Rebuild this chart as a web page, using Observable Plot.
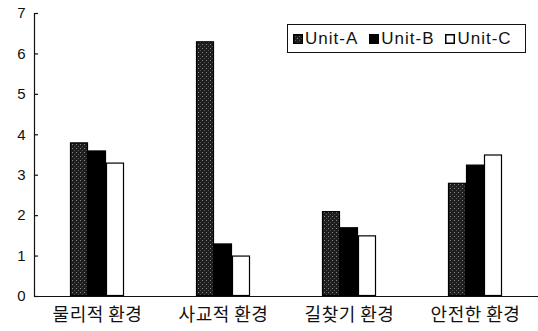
<!DOCTYPE html>
<html>
<head>
<meta charset="utf-8">
<script src="https://cdn.jsdelivr.net/npm/d3@7"></script>
<script src="https://cdn.jsdelivr.net/npm/@observablehq/plot@0.6"></script>
<style>
  html, body { margin: 0; padding: 0; background: #fff; }
  #wrap { position: relative; width: 538px; height: 331px; }
  #wrap svg { font-family: "Liberation Sans", Arial, sans-serif; }
  #wrap g[aria-label="fx-axis tick label"] text { letter-spacing: 0.5px; }
  #legend {
    position: absolute; left: 287px; top: 24px; width: 232px; height: 27px;
    border: 1px solid #111; box-sizing: content-box; white-space: nowrap; overflow: hidden;
    font-family: "Liberation Sans", Arial, sans-serif; font-size: 17px; letter-spacing: 1px;
    display: flex; align-items: center; padding-left: 5px; color: #111;
  }
  #legend .item { display: flex; align-items: center; margin-right: 11px; white-space: nowrap; flex: none; }
</style>
</head>
<body>
<div id="wrap"></div>
<script>
const categories = ["물리적 환경", "사교적 환경", "길찾기 환경", "안전한 환경"];
const units = ["Unit-A", "Unit-B", "Unit-C"];
const unitA = [3.8, 6.3, 2.1, 2.8];
const unitB = [3.6, 1.3, 1.7, 3.25];
const unitC = [3.3, 1.0, 1.5, 3.5];
const yTicks = [0, 1, 2, 3, 4, 5, 6, 7];

const seriesValues = [unitA, unitB, unitC];
const data = [];
categories.forEach((c, i) => units.forEach((u, j) => data.push({cat: c, unit: u, value: seriesValues[j][i]})));

const fills = {"Unit-A": "url(#stipple)", "Unit-B": "#000", "Unit-C": "#fff"};

const chart = Plot.plot({
  width: 538,
  height: 331,
  marginLeft: 34,
  marginRight: 0,
  marginTop: 13,
  marginBottom: 35,
  fx: {domain: categories, padding: 0, label: null},
  x: {domain: units, paddingInner: 0, paddingOuter: 2, axis: null},
  y: {domain: [0, 7], axis: null},
  marks: [
    Plot.axisY({ticks: yTicks, tickFormat: "d", tickSize: 0, tickPadding: 9, fontSize: 15, label: null, fill: "#111"}),
    Plot.axisY({ticks: yTicks, tickSize: 4, text: null, label: null, dx: 4, stroke: "#111", strokeWidth: 1.2}),
    Plot.axisFx({anchor: "bottom", tickSize: 0, tickPadding: 12, fontSize: 18, label: null,
      fontFamily: "'Noto Sans CJK KR', sans-serif", fill: "#111"}),
    Plot.barY(data, {fx: "cat", x: "unit", y: "value", fill: d => fills[d.unit], stroke: "#000", strokeWidth: 1.2, inset: 0.5}),
    Plot.ruleY([0], {stroke: "#111", strokeWidth: 1.2}),
    Plot.frame({anchor: "left", facetAnchor: "left", stroke: "#111", strokeWidth: 1.2})
  ]
});

// stipple pattern for Unit-A
const defs = d3.select(chart).insert("defs", ":first-child");
const pat = defs.append("pattern").attr("id", "stipple").attr("width", 4).attr("height", 4).attr("patternUnits", "userSpaceOnUse");
pat.append("rect").attr("width", 4).attr("height", 4).attr("fill", "#1e1e1e");
pat.append("rect").attr("x", 0).attr("y", 0).attr("width", 1).attr("height", 1).attr("fill", "#8a8a8a");
pat.append("rect").attr("x", 2).attr("y", 2).attr("width", 1).attr("height", 1).attr("fill", "#555");

const wrap = document.getElementById("wrap");
wrap.appendChild(chart);

const legend = document.createElement("div");
legend.id = "legend";
units.forEach(u => {
  const item = document.createElement("span");
  item.className = "item";
  const sw = document.createElementNS("http://www.w3.org/2000/svg", "svg");
  sw.setAttribute("width", 10); sw.setAttribute("height", 10);
  sw.style.marginRight = "2px";
  const r = document.createElementNS("http://www.w3.org/2000/svg", "rect");
  r.setAttribute("x", 0.75); r.setAttribute("y", 0.75); r.setAttribute("width", 8.5); r.setAttribute("height", 8.5);
  r.setAttribute("fill", fills[u]); r.setAttribute("stroke", "#000"); r.setAttribute("stroke-width", 1.5);
  sw.appendChild(r);
  item.appendChild(sw);
  item.appendChild(document.createTextNode(u));
  legend.appendChild(item);
});
wrap.appendChild(legend);
</script>
</body>
</html>
